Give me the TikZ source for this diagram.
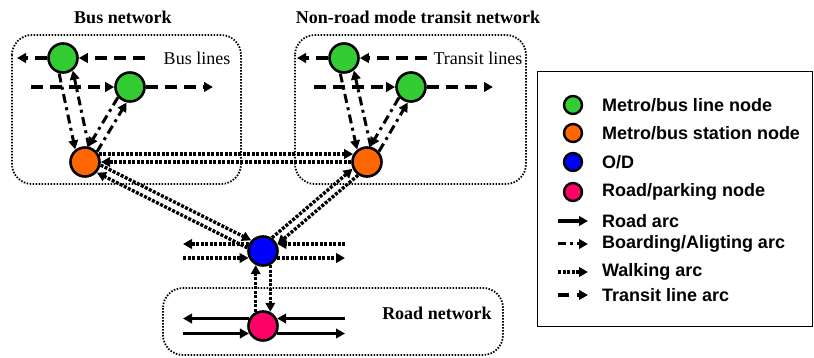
\documentclass[tikz,border=0pt]{standalone}
\usepackage{fontspec}
\setmainfont{Liberation Serif}
\newfontfamily\lsans{Liberation Sans}
\usetikzlibrary{arrows.meta,calc}
\pgfdeclarelayer{back}
\pgfdeclarelayer{mid}
\pgfsetlayers{back,mid,main}
\definecolor{cgreen}{RGB}{51,204,51}
\definecolor{corange}{RGB}{255,102,0}
\definecolor{cblue}{RGB}{0,0,255}
\definecolor{cpink}{RGB}{255,0,102}
\newcommand\parl[6]{\draw[#1, shorten <=#5, shorten >=#6] ($(#2)!#4!90:(#3)$) -- ($(#3)!#4!-90:(#2)$);}
\begin{document}
\begin{tikzpicture}[x=1pt,y=-1pt,
 every node/.style={inner sep=0pt,outer sep=0pt},
 nd/.style={circle,draw,line width=2.6pt,minimum size=29pt,outer sep=1.3pt},
 lgn/.style={circle,draw,line width=2.4pt,minimum size=18pt},
 tip/.style={-{Triangle[length=9pt,width=9.5pt]}},
 tr/.style={line width=3.8pt,dash pattern=on 12pt off 7pt,tip},
 board/.style={line width=3pt,dash pattern=on 9pt off 4.5pt on 3pt off 4.5pt,tip},
 walk/.style={line width=3.4pt,dash pattern=on 3pt off 1.5pt,tip},
 road/.style={line width=3.2pt,tip},
 netbox/.style={line width=1.8pt,dash pattern=on 1.5pt off 1.5pt,rounded corners=20pt},
 ttl/.style={font=\bfseries\fontsize{18}{18}\selectfont},
 lbl/.style={font=\fontsize{18}{18}\selectfont},
 lgt/.style={font=\lsans\bfseries\fontsize{18}{18}\selectfont,anchor=west},
]
\useasboundingbox (0,0) rectangle (814,358);

% titles and labels
\node[ttl] (t1) at (123,17) {Bus network};
\node[ttl] (t2) at (418,17) {Non-road mode transit network};
\node[ttl] (t3) at (437,313) {Road network};
\node[lbl] (l1) at (197,58) {Bus lines};
\node[lbl] (l2) at (478,58) {Transit lines};

% network nodes
\node[nd,fill=cgreen] (G1) at (63,58) {};
\node[nd,fill=cgreen] (G2) at (130,87) {};
\node[nd,fill=corange] (O1) at (85,162) {};
\node[nd,fill=cgreen] (G3) at (344,58) {};
\node[nd,fill=cgreen] (G4) at (411,87) {};
\node[nd,fill=corange] (O2) at (367,162) {};
\node[nd,fill=cblue] (B) at (263,251) {};
\node[nd,fill=cpink] (P) at (263,326) {};

% free ends
\coordinate (a1) at (17,58);
\coordinate (a2) at (145,58);
\coordinate (a3) at (31,87);
\coordinate (a4) at (213,87);
\coordinate (b1) at (297,58);
\coordinate (b2) at (427,58);
\coordinate (b3) at (314,87);
\coordinate (b4) at (493,87);
\coordinate (w1) at (183,244);
\coordinate (w2) at (345,244);
\coordinate (w3) at (183,258);
\coordinate (w4) at (345,258);
\coordinate (r1) at (183,318.5);
\coordinate (r2) at (345,318.5);
\coordinate (r3) at (183,333.5);
\coordinate (r4) at (345,333.5);

\begin{pgfonlayer}{back}
\draw[netbox] (12,35) rectangle (241,184);
\draw[netbox] (295,35) rectangle (526,184);
\draw[netbox] (163,288) rectangle (503,355);
\draw[line width=1pt] (537,72) rectangle (812,326);
\end{pgfonlayer}

\begin{pgfonlayer}{mid}
% transit line arcs
\draw[tr] (G1) -- (a1);
\draw[tr] (a2) -- (G1);
\draw[tr] (a3) -- (G2);
\draw[tr] (G2) -- (a4);
\draw[tr] (G3) -- (b1);
\draw[tr] (b2) -- (G3);
\draw[tr] (b3) -- (G4);
\draw[tr] (G4) -- (b4);
% boarding / alighting arcs
\parl{board}{G1}{O1}{-7pt}{14.4pt}{14.4pt}
\parl{board}{O1}{G1}{-7pt}{14.4pt}{14.4pt}
\parl{board}{G2}{O1}{-5pt}{15.2pt}{15.2pt}
\parl{board}{O1}{G2}{-5pt}{15.2pt}{15.2pt}
\parl{board}{G3}{O2}{-7pt}{14.4pt}{14.4pt}
\parl{board}{O2}{G3}{-7pt}{14.4pt}{14.4pt}
\parl{board}{G4}{O2}{-5pt}{15.2pt}{15.2pt}
\parl{board}{O2}{G4}{-5pt}{15.2pt}{15.2pt}
% walking arcs
\parl{walk}{O1}{O2}{8pt}{13.9pt}{13.9pt}
\parl{walk}{O2}{O1}{0pt}{16pt}{16pt}
\parl{walk}{O1}{B}{4.2pt}{15.4pt}{15.4pt}
\parl{walk}{B}{O1}{4.2pt}{15.4pt}{15.4pt}
\parl{walk}{B}{O2}{4.2pt}{15.4pt}{15.4pt}
\parl{walk}{O2}{B}{4.2pt}{15.4pt}{15.4pt}
\parl{walk}{P}{B}{7.3pt}{14.2pt}{14.2pt}
\parl{walk}{B}{P}{7.3pt}{14.2pt}{14.2pt}
\draw[walk,shorten <=14.4pt] (w1 -| B) -- (w1);
\draw[walk,shorten >=14.4pt] (w2) -- (w2 -| B);
\draw[walk,shorten >=14.4pt] (w3) -- (w3 -| B);
\draw[walk,shorten <=14.4pt] (w4 -| B) -- (w4);
% road arcs
\draw[road,shorten <=14.1pt] (r1 -| P) -- (r1);
\draw[road,shorten >=14.1pt] (r2) -- (r2 -| P);
\draw[road,shorten >=14.1pt] (r3) -- (r3 -| P);
\draw[road,shorten <=14.1pt] (r4 -| P) -- (r4);
\end{pgfonlayer}

% legend
\node[lgn,fill=cgreen] (k1) at (573,105) {};
\node[lgn,fill=corange] (k2) at (573,133) {};
\node[lgn,fill=cblue] (k3) at (573,162) {};
\node[lgn,fill=cpink] (k4) at (573,192) {};
\node[lgt] (k1t) at (602,105) {Metro/bus line node};
\node[lgt] (k2t) at (602,133) {Metro/bus station node};
\node[lgt] (k3t) at (602,162) {O/D};
\node[lgt] (k4t) at (602,192) {Road/parking node};
\node[lgt] (k5t) at (602,221) {Road arc};
\node[lgt] (k6t) at (602,244) {Boarding/Aligting arc};
\node[lgt] (k7t) at (602,272) {Walking arc};
\node[lgt] (k8t) at (602,295) {Transit line arc};
\coordinate (s1a) at (558,221); \coordinate (s1b) at (588,221);
\coordinate (s2a) at (558,244); \coordinate (s2b) at (588,244);
\coordinate (s3a) at (558,272); \coordinate (s3b) at (588,272);
\coordinate (s4a) at (558,295); \coordinate (s4b) at (588,295);
\draw[road] (s1a) -- (s1b);
\draw[board,dash pattern=on 8pt off 4pt on 3pt off 4pt] (s2a) -- (s2b);
\draw[walk] (s3a) -- (s3b);
\draw[tr,dash pattern=on 11pt off 8pt] (s4a) -- (s4b);
\end{tikzpicture}
\end{document}
